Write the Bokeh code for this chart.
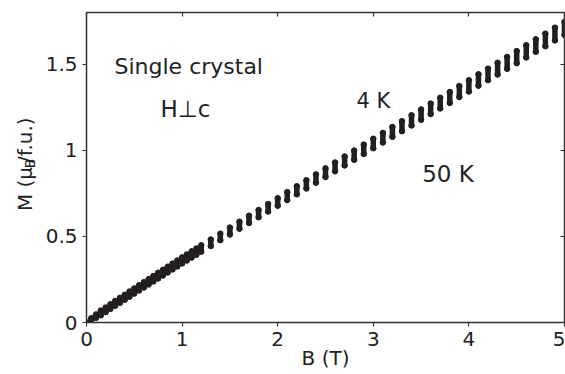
import math
from bokeh.plotting import figure
from bokeh.layouts import row
from bokeh.models import Range1d, LinearAxis, FixedTicker, Label, ColumnDataSource
from bokeh.embed import file_html
from bokeh.resources import INLINE

# ---- data ----
B = [0.00, 0.05, 0.10, 0.15, 0.20, 0.25, 0.30, 0.35, 0.40, 0.45, 0.50, 0.55,
     0.60, 0.65, 0.70, 0.75, 0.80, 0.85, 0.90, 0.95, 1.00, 1.05, 1.10, 1.15,
     1.20, 1.3, 1.4, 1.5, 1.6, 1.7, 1.8, 1.9, 2.0, 2.1, 2.2, 2.3, 2.4, 2.5,
     2.6, 2.7, 2.8, 2.9, 3.0, 3.1, 3.2, 3.3, 3.4, 3.5, 3.6, 3.7, 3.8, 3.9,
     4.0, 4.1, 4.2, 4.3, 4.4, 4.5, 4.6, 4.7, 4.8, 4.9, 5.0]

M_4K = [0.000, 0.025, 0.047, 0.069, 0.087, 0.106, 0.125, 0.143, 0.161, 0.180,
        0.198, 0.216, 0.234, 0.252, 0.270, 0.289, 0.306, 0.324, 0.342, 0.360,
        0.378, 0.395, 0.413, 0.430, 0.448, 0.482, 0.516, 0.551, 0.585, 0.620,
        0.653, 0.688, 0.722, 0.757, 0.791, 0.826, 0.860, 0.895, 0.929, 0.964,
        0.998, 1.033, 1.067, 1.101, 1.135, 1.169, 1.203, 1.237, 1.271, 1.305,
        1.338, 1.373, 1.406, 1.441, 1.474, 1.508, 1.542, 1.576, 1.610, 1.644,
        1.677, 1.712, 1.745]

M_50K = [0.000, 0.013, 0.027, 0.042, 0.060, 0.079, 0.097, 0.114, 0.132, 0.150,
         0.168, 0.186, 0.203, 0.221, 0.238, 0.256, 0.273, 0.291, 0.308, 0.325,
         0.343, 0.360, 0.377, 0.394, 0.411, 0.444, 0.478, 0.511, 0.545, 0.578,
         0.611, 0.644, 0.678, 0.711, 0.744, 0.778, 0.812, 0.845, 0.878, 0.912,
         0.945, 0.979, 1.012, 1.045, 1.078, 1.111, 1.144, 1.177, 1.210, 1.243,
         1.275, 1.309, 1.341, 1.375, 1.407, 1.440, 1.473, 1.506, 1.539, 1.572,
         1.604, 1.638, 1.670]

x_ticks = [0, 1, 2, 3, 4, 5]
x_tick_labels = ["0", "1", "2", "3", "4", "5"]
y_ticks = [0, 0.5, 1, 1.5]
y_tick_labels = ["0", "0.5", "1", "1.5"]

FONT = "DejaVu Sans"
INK = "#231f20"
AXIS = "#333333"
TXT = "#222222"
H = 374
LW = 40  # width of the strip holding the y-axis title

src = ColumnDataSource(dict(B=B, m4=M_4K, m50=M_50K))

p = figure(width=565 - LW, height=H, output_backend="svg", toolbar_location=None,
           x_range=Range1d(0, 5), y_range=Range1d(0, 1.8),
           min_border_left=86 - LW, min_border_right=1, min_border_top=12,
           min_border_bottom=52, outline_line_color=None,
           background_fill_color="white", border_fill_color="white")
p.grid.visible = False

# data: each field point shows the 4 K and 50 K values joined into one mark
p.segment(x0="B", y0="m50", x1="B", y1="m4", source=src, line_color=INK,
          line_width=5.5, line_cap="round")
p.scatter("B", "m4", source=src, size=5.5, color=INK)
p.scatter("B", "m50", source=src, size=5.5, color=INK)

def style_axis(ax, ticks, labels, show_labels, tick_in, tick_out):
    ax.ticker = FixedTicker(ticks=ticks)
    ax.major_label_overrides = {t: l for t, l in zip(ticks, labels)}
    ax.minor_tick_line_color = None
    ax.axis_line_color = AXIS
    ax.axis_line_width = 1.5
    ax.major_tick_line_color = AXIS
    ax.major_tick_line_width = 1.2
    ax.major_tick_in = tick_in
    ax.major_tick_out = tick_out
    if show_labels:
        ax.major_label_text_font = FONT
        ax.major_label_text_font_size = "20px"
        ax.major_label_text_color = TXT
        ax.major_label_standoff = 5
    else:
        ax.major_label_text_font_size = "0px"
        ax.major_label_standoff = 0
        ax.major_label_text_color = None

xa = p.xaxis[0]
ya = p.yaxis[0]
style_axis(xa, x_ticks, x_tick_labels, True, 0, 4)
style_axis(ya, y_ticks, y_tick_labels, True, 0, 4)
xa.axis_label = "B (T)"
xa.axis_label_text_font = FONT
xa.axis_label_text_font_size = "20px"
xa.axis_label_text_font_style = "normal"
xa.axis_label_text_color = TXT
xa.axis_label_standoff = -3

top = LinearAxis()
right = LinearAxis()
style_axis(top, x_ticks, x_tick_labels, False, 4, 0)
style_axis(right, y_ticks, y_tick_labels, False, 4, 0)
p.add_layout(top, "above")
p.add_layout(right, "right")

annotations = [("Single crystal", 0.293, 1.486, "22px"),
               ("H\u22a5c", 0.774, 1.240, "23px"),
               ("4 K", 2.824, 1.288, "21px"),
               ("50 K", 3.511, 0.863, "23px")]
for txt, x, y, fs in annotations:
    p.add_layout(Label(x=x, y=y, text=txt, text_align="left", text_baseline="alphabetic",
                       text_font=FONT, text_font_size=fs, text_color=TXT))

# strip on the left carrying the y-axis title (with subscript B), pixel coordinates;
# each piece is centred on its anchor
lab = figure(width=LW, height=H, output_backend="svg", toolbar_location=None,
             x_range=Range1d(0, LW), y_range=Range1d(0, H),
             min_border=0, x_axis_location=None, y_axis_location=None,
             outline_line_color=None, background_fill_color="white",
             border_fill_color="white")
lab.grid.visible = False
ylab_parts = [("M (\u03bc", 24, 161, "20px"), ("B", 29, 192, "14px"),
              ("/f.u.)", 24, 220, "20px")]
for txt, x, y, fs in ylab_parts:
    lab.add_layout(Label(x=x, y=y, text=txt, angle=math.pi / 2, text_align="center",
                         text_baseline="middle", text_font=FONT,
                         text_font_size=fs, text_color=TXT))

layout = row(lab, p, spacing=0)
open("out.html", "w").write(file_html(layout, INLINE))
